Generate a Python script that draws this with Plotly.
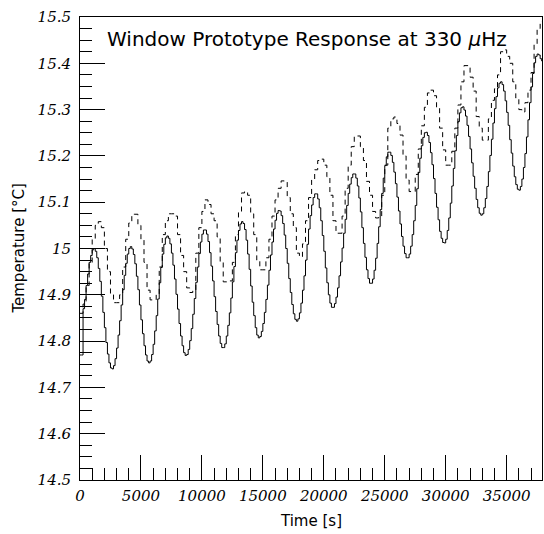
import numpy as np
import plotly.graph_objects as go

# Histogram binning (seconds per bin) of the two temperature records
INNER_BIN_WIDTH = 125
OUTER_BIN_WIDTH = 250

# Response of the inner sensor (solid histogram), degC per bin
temp_inner = [
    14.770, 14.770, 14.870, 14.890, 14.920, 14.945, 14.970, 14.985, 14.997, 15.000,
    14.994, 14.980, 14.957, 14.929, 14.897, 14.862, 14.829, 14.797, 14.772, 14.753,
    14.742, 14.740, 14.747, 14.762, 14.785, 14.813, 14.844, 14.878, 14.911, 14.942,
    14.968, 14.988, 15.000, 15.004, 14.999, 14.987, 14.967, 14.940, 14.911, 14.878,
    14.846, 14.816, 14.790, 14.770, 14.757, 14.753, 14.757, 14.771, 14.793, 14.822,
    14.855, 14.891, 14.926, 14.959, 14.988, 15.009, 15.023, 15.027, 15.022, 15.010,
    14.990, 14.964, 14.934, 14.901, 14.869, 14.838, 14.811, 14.790, 14.775, 14.769,
    14.771, 14.782, 14.801, 14.827, 14.858, 14.892, 14.927, 14.960, 14.989, 15.014,
    15.031, 15.040, 15.040, 15.031, 15.015, 14.991, 14.962, 14.930, 14.896, 14.864,
    14.836, 14.811, 14.795, 14.786, 14.786, 14.794, 14.811, 14.834, 14.861, 14.893,
    14.928, 14.961, 14.991, 15.018, 15.039, 15.053, 15.058, 15.054, 15.041, 15.018,
    14.988, 14.955, 14.919, 14.884, 14.855, 14.829, 14.813, 14.807, 14.810, 14.821,
    14.838, 14.862, 14.890, 14.921, 14.953, 14.986, 15.014, 15.042, 15.061, 15.076,
    15.082, 15.081, 15.071, 15.054, 15.029, 15.000, 14.968, 14.935, 14.905, 14.879,
    14.859, 14.847, 14.843, 14.848, 14.861, 14.882, 14.910, 14.941, 14.975, 15.009,
    15.042, 15.071, 15.094, 15.110, 15.118, 15.118, 15.107, 15.088, 15.060, 15.028,
    14.994, 14.958, 14.926, 14.900, 14.882, 14.873, 14.873, 14.881, 14.895, 14.915,
    14.941, 14.971, 15.001, 15.033, 15.063, 15.093, 15.119, 15.139, 15.153, 15.161,
    15.161, 15.152, 15.135, 15.109, 15.079, 15.045, 15.011, 14.981, 14.954, 14.935,
    14.925, 14.925, 14.934, 14.953, 14.979, 15.011, 15.047, 15.084, 15.119, 15.152,
    15.179, 15.198, 15.208, 15.208, 15.201, 15.186, 15.165, 15.140, 15.111, 15.081,
    15.053, 15.026, 15.005, 14.989, 14.980, 14.980, 14.988, 15.005, 15.030, 15.060,
    15.093, 15.129, 15.164, 15.195, 15.222, 15.240, 15.250, 15.251, 15.244, 15.229,
    15.207, 15.181, 15.151, 15.119, 15.089, 15.062, 15.037, 15.022, 15.013, 15.012,
    15.020, 15.039, 15.066, 15.098, 15.135, 15.173, 15.211, 15.244, 15.274, 15.293,
    15.304, 15.306, 15.299, 15.286, 15.266, 15.242, 15.215, 15.185, 15.156, 15.130,
    15.106, 15.088, 15.076, 15.072, 15.075, 15.088, 15.108, 15.134, 15.166, 15.201,
    15.236, 15.271, 15.302, 15.328, 15.347, 15.357, 15.360, 15.354, 15.340, 15.319,
    15.294, 15.266, 15.235, 15.206, 15.178, 15.155, 15.138, 15.128, 15.126, 15.134,
    15.150, 15.175, 15.205, 15.241, 15.278, 15.315, 15.349, 15.378, 15.401, 15.415,
    15.420, 15.418, 15.410, 15.405,
]

# Response of the outer sensor (dashed histogram), degC per bin
temp_outer = [
    14.860, 14.880, 14.920, 14.970, 15.020, 15.050, 15.058, 15.045, 15.000, 14.950,
    14.900, 14.883, 14.883, 14.900, 14.960, 15.020, 15.055, 15.074, 15.074, 15.050,
    15.020, 14.970, 14.910, 14.889, 14.889, 14.900, 14.960, 15.030, 15.060, 15.075,
    15.075, 15.070, 15.030, 14.985, 14.950, 14.915, 14.905, 14.910, 14.990, 15.045,
    15.080, 15.105, 15.095, 15.075, 15.060, 15.025, 14.970, 14.928, 14.928, 14.930,
    14.970, 15.030, 15.080, 15.120, 15.123, 15.115, 15.075, 15.030, 14.975, 14.954,
    14.954, 14.980, 15.020, 15.070, 15.105, 15.130, 15.146, 15.145, 15.110, 15.075,
    15.045, 14.990, 14.982, 15.010, 15.060, 15.110, 15.150, 15.170, 15.190, 15.193,
    15.180, 15.155, 15.115, 15.060, 15.033, 15.033, 15.070, 15.130, 15.180, 15.220,
    15.243, 15.243, 15.220, 15.190, 15.145, 15.115, 15.080, 15.066, 15.070, 15.115,
    15.180, 15.260, 15.280, 15.284, 15.270, 15.245, 15.200, 15.148, 15.123, 15.123,
    15.160, 15.215, 15.265, 15.305, 15.336, 15.342, 15.330, 15.305, 15.260, 15.213,
    15.180, 15.180, 15.210, 15.260, 15.310, 15.360, 15.395, 15.395, 15.370, 15.340,
    15.285, 15.260, 15.234, 15.234, 15.280, 15.320, 15.345, 15.375, 15.425, 15.429,
    15.415, 15.400, 15.360, 15.325, 15.300, 15.295, 15.315, 15.342, 15.380, 15.440,
    15.475, 15.490,
]

# Axis ticks
x_tick_vals = [0, 5000, 10000, 15000, 20000, 25000, 30000, 35000]
x_tick_text = ["0", "5000", "10000", "15000", "20000", "25000", "30000", "35000"]
y_tick_vals = [14.5, 14.6, 14.7, 14.8, 14.9, 15.0, 15.1, 15.2, 15.3, 15.4, 15.5]
y_tick_text = ["14.5", "14.6", "14.7", "14.8", "14.9", "15", "15.1", "15.2", "15.3", "15.4", "15.5"]

X_RANGE = [0, 37900]
Y_RANGE = [14.5, 15.5]


def step_arrays(values, bin_width):
    """Bin edges and values for a histogram drawn as a staircase."""
    edges = np.arange(len(values) + 1) * bin_width
    return edges, list(values) + [values[-1]]


fig = go.Figure()

xo, yo = step_arrays(temp_outer, OUTER_BIN_WIDTH)
fig.add_trace(go.Scatter(
    x=xo, y=yo, mode="lines", line_shape="hv",
    line=dict(color="black", width=1, dash="5px,4px"),
    showlegend=False, hoverinfo="skip",
))

xi, yi = step_arrays(temp_inner, INNER_BIN_WIDTH)
fig.add_trace(go.Scatter(
    x=xi, y=yi, mode="lines", line_shape="hv",
    line=dict(color="black", width=1),
    showlegend=False, hoverinfo="skip",
))

tick_font = dict(family="DejaVu Serif", size=15, color="black", style="italic")
label_font = dict(family="DejaVu Sans", size=15, color="black")

axis_common = dict(
    showline=True, linecolor="black", linewidth=1, mirror=True,
    ticks="inside", ticklen=25, tickwidth=1, tickcolor="black",
    showgrid=False, zeroline=False, tickfont=tick_font,
)

fig.update_layout(
    width=544, height=534,
    margin=dict(l=80, r=2, t=17, b=54),
    paper_bgcolor="white", plot_bgcolor="white",
    xaxis=dict(
        range=X_RANGE, tickmode="array", tickvals=x_tick_vals, ticktext=x_tick_text,
        ticklabelstandoff=2,
        minor=dict(ticks="inside", ticklen=12, tickwidth=1, tickcolor="black",
                   tickmode="linear", tick0=0, dtick=1000, showgrid=False),
        **axis_common,
    ),
    yaxis=dict(
        range=Y_RANGE, tickmode="array", tickvals=y_tick_vals, ticktext=y_tick_text,
        ticklabelstandoff=5,
        minor=dict(ticks="inside", ticklen=12, tickwidth=1, tickcolor="black",
                   tickmode="linear", tick0=14.5, dtick=0.025, showgrid=False),
        **axis_common,
    ),
    annotations=[
        dict(text="Window Prototype Response at 330 <i>μ</i>Hz",
             xref="paper", yref="paper", x=0.054, y=0.9525,
             xanchor="left", yanchor="middle", showarrow=False,
             font=dict(family="DejaVu Sans", size=20, color="black")),
        dict(text="Time [s]", xref="paper", yref="paper", x=0.5, y=-0.0886,
             xanchor="center", yanchor="middle", showarrow=False, font=label_font),
        dict(text="Temperature [°C]", xref="paper", yref="paper", x=-0.134, y=0.5,
             xanchor="center", yanchor="middle", textangle=-90, showarrow=False,
             font=label_font),
    ],
)

fig.write_html("out.html")
